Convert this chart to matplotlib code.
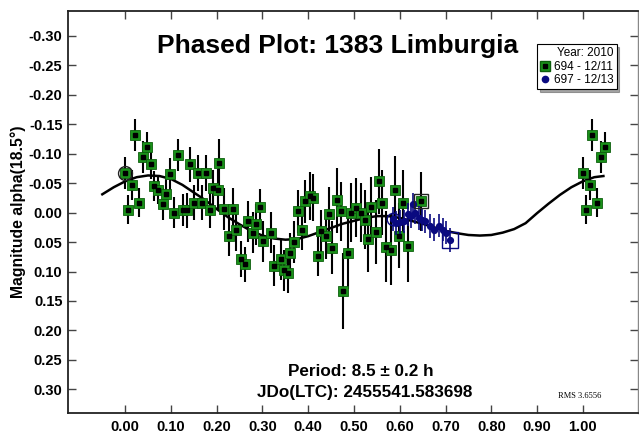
"""Phased light curve plot for 1383 Limburgia."""
import matplotlib.pyplot as plt
import numpy as np

plt.rcParams['font.family'] = ['Liberation Sans', 'DejaVu Sans']
plt.rcParams['axes.unicode_minus'] = False

# Session 694 - 12/11 (phase, magnitude, error)
phase_694 = [0.000, 0.006, 0.015, 0.021, 0.030, 0.040, 0.048, 0.057, 0.063, 0.072,
             0.083, 0.090, 0.099, 0.107, 0.115, 0.126, 0.134, 0.141, 0.150, 0.159,
             0.168, 0.177, 0.185, 0.192, 0.203, 0.204, 0.217, 0.226, 0.235, 0.243,
             0.252, 0.261, 0.268, 0.279, 0.285, 0.294, 0.301, 0.318, 0.326, 0.340,
             0.348, 0.355, 0.361, 0.368, 0.377, 0.386, 0.392, 0.403, 0.410, 0.421,
             0.428, 0.439, 0.445, 0.452, 0.462, 0.472, 0.477, 0.486, 0.494, 0.505,
             0.516, 0.523, 0.530, 0.538, 0.547, 0.554, 0.562, 0.569, 0.580, 0.590,
             0.598, 0.607, 0.617, 0.647]
mag_694 = [-0.067, -0.005, -0.047, -0.131, -0.017, -0.094, -0.112, -0.082, -0.045, -0.039,
           -0.014, -0.032, -0.066, 0.000, -0.098, -0.005, -0.004, -0.082, -0.017, -0.067,
           -0.017, -0.067, -0.004, -0.041, -0.039, -0.084, -0.006, 0.039, -0.006, 0.030,
           0.079, 0.088, 0.015, 0.034, 0.020, -0.010, 0.049, 0.034, 0.090, 0.079,
           0.098, 0.102, 0.069, 0.050, -0.002, 0.029, -0.019, -0.028, -0.025, 0.073,
           0.032, 0.039, 0.002, 0.060, -0.021, -0.002, 0.133, 0.069, 0.000, -0.008,
           0.000, 0.012, 0.045, -0.010, 0.033, -0.053, -0.017, 0.058, 0.063, -0.038,
           0.039, -0.017, 0.057, -0.019]
err_694 = [0.027, 0.025, 0.025, 0.027, 0.025, 0.027, 0.025, 0.025, 0.025, 0.025,
           0.027, 0.025, 0.027, 0.027, 0.027, 0.027, 0.030, 0.030, 0.030, 0.030,
           0.030, 0.030, 0.030, 0.032, 0.035, 0.040, 0.035, 0.035, 0.035, 0.035,
           0.030, 0.030, 0.035, 0.035, 0.035, 0.030, 0.035, 0.035, 0.035, 0.035,
           0.035, 0.035, 0.035, 0.035, 0.037, 0.035, 0.037, 0.040, 0.040, 0.035,
           0.037, 0.040, 0.045, 0.045, 0.055, 0.050, 0.065, 0.060, 0.050, 0.050,
           0.050, 0.050, 0.055, 0.050, 0.055, 0.055, 0.055, 0.060, 0.060, 0.058,
           0.055, 0.055, 0.060, 0.050]

# Session 697 - 12/13
phase_697 = [0.585, 0.591, 0.601, 0.610, 0.617, 0.625, 0.628, 0.634, 0.641, 0.649,
             0.656, 0.666, 0.674, 0.685, 0.694, 0.701, 0.710]
mag_697 = [0.011, 0.018, 0.016, 0.015, 0.003, 0.006, -0.014, 0.000, 0.009, 0.012,
           0.015, 0.023, 0.029, 0.022, 0.029, 0.034, 0.047]
err_697 = [0.020] * len(phase_697)

# Fourier fit curve
fit_phase = [-0.05, -0.025, 0.0, 0.025, 0.05, 0.075, 0.10, 0.125, 0.15, 0.175,
             0.20, 0.225, 0.25, 0.275, 0.30, 0.325, 0.35, 0.375, 0.40, 0.425,
             0.45, 0.475, 0.50, 0.525, 0.55, 0.575, 0.60, 0.625, 0.65, 0.675,
             0.70, 0.725, 0.75, 0.775, 0.80, 0.825, 0.85, 0.875, 0.90, 0.925,
             0.95, 0.975, 1.0, 1.025, 1.045]
fit_mag = [-0.031, -0.043, -0.053, -0.060, -0.063, -0.062, -0.057, -0.047, -0.034, -0.021,
           -0.006, 0.008, 0.020, 0.031, 0.039, 0.044, 0.046, 0.045, 0.040, 0.033,
           0.026, 0.019, 0.014, 0.009, 0.006, 0.006, 0.009, 0.014, 0.019, 0.025,
           0.031, 0.035, 0.038, 0.039, 0.038, 0.034, 0.028, 0.018, 0.001, -0.015,
           -0.030, -0.043, -0.053, -0.060, -0.062]

repeat_limit = 1.052
x_ticks = [0.0, 0.1, 0.2, 0.3, 0.4, 0.5, 0.6, 0.7, 0.8, 0.9, 1.0]
y_ticks = [-0.30, -0.25, -0.20, -0.15, -0.10, -0.05, 0.0, 0.05, 0.10, 0.15, 0.20, 0.25, 0.30]

green = '#1a911a'
green_edge = '#0d5e0d'
navy = '#0a0a80'

fig = plt.figure(figsize=(6.39, 4.34), dpi=100)
ax = fig.add_axes([0.1064, 0.0484, 0.8916, 0.9263])

# curve
ax.plot(fit_phase, fit_mag, color='black', linewidth=1.8, zorder=3)

# session 694 plus repeat beyond phase 1
p694 = np.array(phase_694)
m694 = np.array(mag_694)
e694 = np.array(err_694)
rep = p694 + 1.0 < repeat_limit
px = np.concatenate([p694, p694[rep] + 1.0])
py = np.concatenate([m694, m694[rep]])
pe = np.concatenate([e694, e694[rep]])
ax.errorbar(px, py, yerr=pe, fmt='none', ecolor='black', elinewidth=1.5, capsize=0, zorder=4)
ax.plot(px, py, 's', markersize=6.5, markerfacecolor=green, markeredgecolor=green_edge,
        markeredgewidth=0.6, linestyle='none', zorder=5)
ax.plot(px, py, 's', markersize=2.8, color='black', linestyle='none', zorder=6)

# session 697
ax.errorbar(phase_697, mag_697, yerr=err_697, fmt='none', ecolor=navy, elinewidth=1.2,
            capsize=0, zorder=7)
ax.plot(phase_697, mag_697, 'o', markersize=4.2, color=navy, linestyle='none', zorder=8)

# first / last point markers
ax.plot(phase_694[0], mag_694[0], 'o', markersize=10, markerfacecolor='none',
        markeredgecolor='#222222', markeredgewidth=1.0, zorder=9)
ax.plot(phase_694[-1], mag_694[-1], 's', markersize=10, markerfacecolor='none',
        markeredgecolor='#222222', markeredgewidth=1.0, zorder=9)
ax.plot(phase_697[0], mag_697[0], 'o', markersize=9, markerfacecolor='none',
        markeredgecolor=navy, markeredgewidth=1.0, zorder=9)
ax.plot(phase_697[-1], mag_697[-1], 's', markersize=11, markerfacecolor='none',
        markeredgecolor=navy, markeredgewidth=1.0, zorder=9)

ax.set_xlim(-0.125, 1.12)
ax.set_ylim(0.34, -0.342)
ax.set_xticks(x_ticks)
ax.set_xticklabels([f'{v:.2f}' for v in x_ticks], fontweight='bold', fontsize=10.5)
ax.set_yticks(y_ticks)
ax.set_yticklabels([f'{v:.2f}' for v in y_ticks], fontweight='bold', fontsize=10.5)
ax.tick_params(direction='in', length=6, width=1, color='#444444', top=True, right=True,
               pad=4)
ax.tick_params(axis='x', pad=5)
for side, spine in ax.spines.items():
    spine.set_linewidth(1.3)
    spine.set_color('#222222')
ax.spines['right'].set_color('#888888')
ax.spines['right'].set_linewidth(1.0)

ax.set_ylabel('Magnitude alpha(18.5°)', fontsize=11.3, fontweight='bold', labelpad=2)

# legend
h694 = (plt.Line2D([], [], marker='s', markersize=7, markerfacecolor=green,
                   markeredgecolor=green_edge, linestyle='none'),
        plt.Line2D([], [], marker='s', markersize=3, color='black', linestyle='none'))
h697 = plt.Line2D([], [], marker='o', markersize=4.5, color=navy, linestyle='none')
leg = ax.legend([h694, h697], ['694 - 12/11', '697 - 12/13'], title='Year: 2010',
                loc='upper right', bbox_to_anchor=(0.963, 0.918), fontsize=8.5,
                title_fontsize=8.5, alignment='right', shadow=True, fancybox=False,
                framealpha=1, edgecolor='black', borderpad=0.25, handlelength=0.8,
                handletextpad=0.4, labelspacing=0.15, borderaxespad=0)
leg.get_frame().set_linewidth(0.8)

fig.text(338 / 639, 1 - 46 / 434, 'Phased Plot: 1383 Limburgia', fontsize=19,
         fontweight='bold', ha='center', va='center')
fig.text(361 / 639, 1 - 372 / 434, 'Period: 8.5 ± 0.2 h', fontsize=12.3,
         fontweight='bold', ha='center', va='center')
fig.text(365 / 639, 1 - 393 / 434, 'JDo(LTC): 2455541.583698', fontsize=12.3,
         fontweight='bold', ha='center', va='center')
fig.text(580 / 639, 1 - 396 / 434, 'RMS 3.6556', fontsize=6, family='Liberation Serif',
         ha='center', va='center')

fig.savefig('out.png', dpi=100)
